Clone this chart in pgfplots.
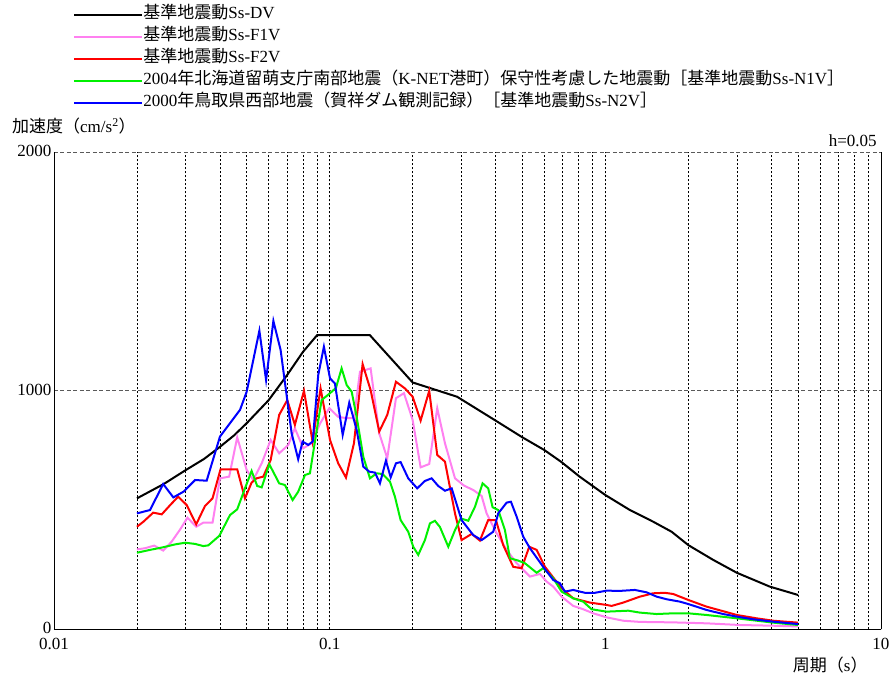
\documentclass[border=0pt]{standalone}
\usepackage{fontspec}
\setmainfont{Liberation Serif}
\newfontfamily\cjk{Noto Sans CJK JP}
\usepackage{pgfplots}
\pgfplotsset{compat=1.18}
\definecolor{cBlue}{RGB}{0,0,255}
\definecolor{cRed}{RGB}{255,0,0}
\definecolor{cGreen}{RGB}{0,240,0}
\definecolor{cPink}{RGB}{255,128,240}
\definecolor{cGrid}{RGB}{90,90,90}
\newcommand{\fsz}{\fontsize{17}{20}\selectfont}

\pgfplotstableread{
T A
0.020 549
0.025 609
0.030 667
0.035 714
0.040 765
0.045 813
0.050 864
0.060 960
0.070 1065
0.080 1163
0.090 1233
0.140 1233
0.200 1035
0.290 975
0.400 875
0.500 805
0.600 752
0.690 703
0.807 640
1.000 563
1.228 500
1.492 451
1.740 409
2.000 353
2.462 291
3.000 237
3.950 179
5.000 144
}\dataDV

\pgfplotstableread{
T A
0.0200 335
0.0214 340
0.0231 351
0.0249 330
0.0267 367
0.0287 419
0.0305 468
0.0328 430
0.0348 447
0.0376 447
0.0400 633
0.0432 640
0.0462 805
0.0500 668
0.0528 626
0.0567 696
0.0611 794
0.0656 738
0.0708 773
0.0748 843
0.0802 759
0.0860 780
0.0924 864
0.0997 927
0.1074 891
0.1153 885
0.1225 885
0.1288 1080
0.1408 1094
0.1513 822
0.1618 717
0.1740 969
0.1860 990
0.2000 878
0.2138 679
0.2297 693
0.2456 927
0.2620 780
0.2849 633
0.3076 602
0.3319 584
0.3559 559
0.3710 486
0.4034 403
0.4385 333
0.4768 277
0.5328 221
0.5793 232
0.6126 200
0.6473 179
0.6942 137
0.7647 98
0.8314 84
0.9040 67
1.011 50
1.161 36
1.335 31
1.763 29
2.330 25
3.076 18
4.060 15
5.000 12
}\dataFone

\pgfplotstableread{
T A
0.0200 430
0.0211 451
0.0229 489
0.0246 482
0.0264 521
0.0282 556
0.0303 521
0.0328 440
0.0353 517
0.0376 549
0.0402 671
0.0432 671
0.0462 671
0.0493 549
0.0521 615
0.0543 633
0.0574 640
0.0611 710
0.0656 899
0.0702 961
0.0748 857
0.0807 1000
0.0867 787
0.0927 1010
0.1003 794
0.1074 696
0.1146 636
0.1225 780
0.1317 1112
0.1408 1003
0.1513 829
0.1618 899
0.1740 1038
0.1875 1010
0.2000 975
0.2138 875
0.2297 1000
0.2456 731
0.2620 703
0.2849 486
0.3010 374
0.3275 400
0.3508 372
0.3760 458
0.4010 458
0.4262 353
0.4634 262
0.4970 256
0.5297 346
0.5635 333
0.6040 262
0.6298 235
0.6942 172
0.7647 130
0.8790 112
1.011 102
1.054 98
1.161 112
1.335 137
1.492 151
1.645 153
1.763 148
2.000 123
2.330 95
3.000 60
3.538 46
4.060 36
5.000 28
}\dataFtwo

\pgfplotstableread{
T A
0.0200 321
0.0223 333
0.0249 344
0.0275 356
0.0299 363
0.0325 358
0.0348 349
0.0363 352
0.0398 392
0.0435 479
0.0462 503
0.0493 591
0.0521 664
0.0546 601
0.0567 595
0.0604 692
0.0656 612
0.0688 605
0.0734 542
0.0769 577
0.0814 647
0.0848 654
0.0892 815
0.0935 961
0.1003 990
0.1054 1012
0.1105 1094
0.1153 1024
0.1202 996
0.1253 891
0.1324 724
0.1400 633
0.1481 654
0.1557 651
0.1655 619
0.1725 556
0.1809 458
0.1928 409
0.2010 346
0.2096 312
0.2216 374
0.2311 444
0.2409 455
0.2512 429
0.2694 346
0.2849 416
0.2990 465
0.3183 455
0.3367 514
0.3588 612
0.3760 591
0.3901 512
0.4088 500
0.4323 416
0.4507 298
0.4832 288
0.5110 277
0.5635 237
0.5950 256
0.6473 214
0.6942 158
0.7647 130
0.8314 116
0.8920 84
1.011 74
1.211 78
1.335 70
1.535 64
1.763 67
2.000 67
2.330 60
3.000 46
4.060 28
5.000 18
}\dataNone

\pgfplotstableread{
T A
0.0200 486
0.0223 500
0.0249 609
0.0271 553
0.0295 577
0.0325 626
0.0358 623
0.0400 808
0.0435 864
0.0473 920
0.0500 996
0.0556 1252
0.0588 1045
0.0625 1293
0.0664 1171
0.0728 822
0.0769 713
0.0798 787
0.0836 773
0.0868 787
0.0909 1066
0.0953 1185
0.1003 1052
0.1045 1031
0.1115 815
0.1178 950
0.1253 836
0.1324 682
0.1392 661
0.1460 657
0.1522 612
0.1600 707
0.1665 637
0.1740 696
0.1809 701
0.1928 633
0.2078 591
0.2216 622
0.2344 633
0.2477 601
0.2620 581
0.2771 591
0.3010 458
0.3319 395
0.3559 374
0.3920 409
0.4088 486
0.4385 531
0.4545 535
0.4768 472
0.5038 388
0.5328 340
0.5950 262
0.6473 207
0.6844 193
0.7136 158
0.7647 165
0.8433 153
0.9167 153
1.011 162
1.130 161
1.280 165
1.412 155
1.535 137
1.668 126
1.864 116
2.000 106
2.330 81
2.676 64
3.000 53
3.439 42
4.060 32
5.000 22
}\dataNtwo

\begin{document}
\begin{tikzpicture}
\path[use as bounding box] (-54pt,-52.7pt) rectangle (838pt,629.3pt);
\begin{axis}[
  scale only axis,
  width=827pt, height=477pt,
  xmode=log,
  xmin=0.01, xmax=10, ymin=0, ymax=2000,
  clip=false,
  axis x line*=bottom, axis y line*=left,
  x axis line style={-}, y axis line style={-},
  axis line style={black, line width=0.9pt},
  xtick={0.01,0.1,1,10},
  xticklabels={0.01,0.1,1,10},
  ytick={0,1000,2000},
  yticklabels={0,1000,2000},
  major tick length=0pt, minor tick length=0pt,
  tick label style={font=\fsz},
  /pgf/number format/assume math mode=true,
  xticklabel style={yshift=-6pt, text height=11pt},
  yticklabel style={xshift=1pt, yshift=1pt, text depth=0pt},
  xmajorgrids, xminorgrids, ymajorgrids,
  major x grid style={black, line width=0.6pt, dash pattern=on 2.5pt off 1.5pt},
  minor x grid style={black, line width=0.6pt, dash pattern=on 2.5pt off 1.5pt},
  major y grid style={cGrid, line width=0.8pt, dash pattern=on 4pt off 2.5pt},
  legend cell align=left,
  legend image code/.code={\draw[#1, line width=2.5pt] (0pt,0pt) -- (53pt,0pt); \path (0pt,0pt) -- (68pt,0pt);},
  legend style={at={(axis description cs:0.023,1.311)}, anchor=north west,
    draw=none, fill=none, inner sep=0pt, row sep=0pt,
    font=\fsz,
    nodes={inner sep=0pt, text height=14.5pt, text depth=7.5pt}},
  every axis plot/.append style={line width=2pt, mark=none},
]
\addplot[black] table[x=T,y=A] {\dataDV};
\addlegendentry{{\cjk 基準地震動}Ss-DV}
\addplot[cPink] table[x=T,y=A] {\dataFone};
\addlegendentry{{\cjk 基準地震動}Ss-F1V}
\addplot[cRed] table[x=T,y=A] {\dataFtwo};
\addlegendentry{{\cjk 基準地震動}Ss-F2V}
\addplot[cGreen] table[x=T,y=A] {\dataNone};
\addlegendentry{2004{\cjk 年北海道留萌支庁南部地震（}K-NET{\cjk 港町）保守性考慮した地震動［基準地震動}Ss-N1V{\cjk ］}}
\addplot[cBlue] table[x=T,y=A] {\dataNtwo};
\addlegendentry{2000{\cjk 年鳥取県西部地震（賀祥ダム観測記録）［基準地震動}Ss-N2V{\cjk ］}}
\draw[black, line width=0.9pt] (rel axis cs:1,0) -- (rel axis cs:1,1);
\node[anchor=west, inner sep=0pt, font=\fsz] at (rel axis cs:-0.0508,1.055) {{\cjk 加速度（}cm/s\textsuperscript{2}{\cjk ）}};
\node[anchor=east, inner sep=0pt, font=\fsz] at (rel axis cs:0.984,-0.0748) {{\cjk 周期（}s{\cjk ）}};
\node[anchor=south east, inner sep=0pt, font=\fsz] at (rel axis cs:0.995,1.012) {h=0.05};
\end{axis}
\end{tikzpicture}
\end{document}
